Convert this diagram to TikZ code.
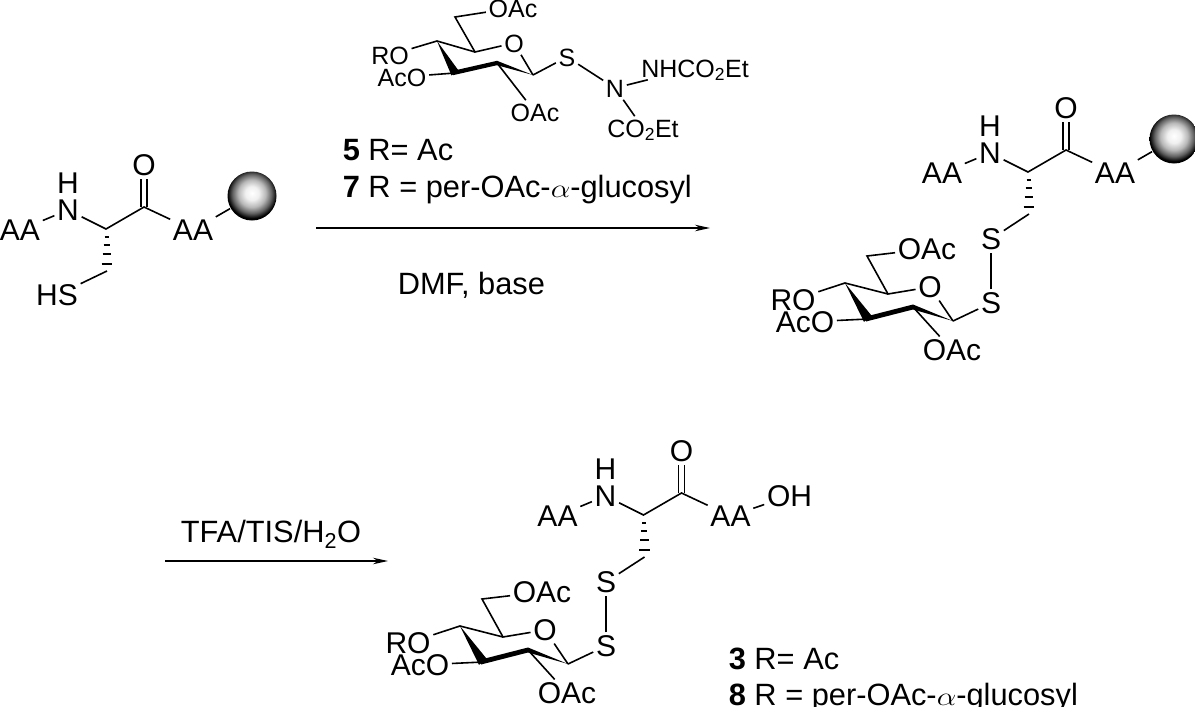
\documentclass[tikz,border=0pt]{standalone}
\usepackage{fontspec}
\setmainfont{Liberation Sans}
\usetikzlibrary{arrows.meta, positioning}
\pgfdeclareradialshading{beadshade}{\pgfpoint{0bp}{3bp}}{color(0bp)=(white); color(7bp)=(white!94!black); color(14bp)=(white!72!black); color(20bp)=(white!38!black); color(25bp)=(black); color(100bp)=(black)}
\newcommand\lpx{0}
\newcommand\lpy{0}
\newcommand\rpx{922}
\newcommand\rpy{-57}
\newcommand\bpx{537.5}
\newcommand\bpy{286}
\newcommand\rsx{0}
\newcommand\rsy{0}
\newcommand\bsx{-385}
\newcommand\bsy{343}
\newcommand\alphaglyph{\scalebox{1.25}[1.05]{$\alpha$}}

\begin{document}
\begin{tikzpicture}[x=1pt, y=-1pt, line width=1.6pt,
    atom/.style={inner sep=2pt, text height=21.5pt, text depth=0pt, font=\fontsize{30}{36}\selectfont},
    smallatom/.style={inner sep=2pt, text height=18pt, text depth=0pt, font=\fontsize{25}{30}\selectfont},
    lab/.style={inner sep=0pt, anchor=base west, font=\fontsize{30.8}{36}\selectfont},
    bead/.style={circle, inner sep=0pt, minimum size=49pt, shading=beadshade},
    rxn/.style={line width=1.2pt, -{Stealth[length=15pt, width=6.5pt]}}]

    \useasboundingbox (0, 0) rectangle (1195, 707);

    % Left peptide
    \node at (\lpx + 20, \lpy + 230) [atom] (aal1) {AA};
    \node at (\lpx + 68, \lpy + 210) [atom] (n1) {N};
    \node at (\lpx + 68, \lpy + 183) [atom] (h1) {H};
    \coordinate (ca1) at (\lpx + 106, \lpy + 229);
    \coordinate (co1) at (\lpx + 144, \lpy + 207);
    \node at (\lpx + 144, \lpy + 165) [atom] (o1) {O};
    \node at (\lpx + 193, \lpy + 230) [atom] (aar1) {AA};
    \node at (\lpx + 252, \lpy + 196) [bead] (bead1) {};
    \coordinate (cb1) at (\lpx + 107, \lpy + 271);
    \node at (\lpx + 57, \lpy + 295) [atom] (hs1) {HS};

    \draw (aal1) -- (n1);
    \draw (n1) -- (ca1) -- (co1) -- (aar1);
    \draw ([xshift=-3pt]co1) -- ([xshift=-3pt]o1.south);
    \draw ([xshift=3pt]co1) -- ([xshift=3pt]o1.south);
    \draw (aar1) -- (bead1);
    \draw (cb1) -- (hs1);
    \draw ([shift={(-1.5,8)}]ca1) -- ([shift={(2.5,8)}]ca1)
          ([shift={(-2.5,16)}]ca1) -- ([shift={(3.5,16)}]ca1)
          ([shift={(-3.5,25)}]ca1) -- ([shift={(5,25)}]ca1)
          ([shift={(-4.5,35)}]ca1) -- ([shift={(6,35)}]ca1);

    % Right peptide
    \node at (\rpx + 20, \rpy + 230) [atom] (aal2) {AA};
    \node at (\rpx + 68, \rpy + 210) [atom] (n2) {N};
    \node at (\rpx + 68, \rpy + 183) [atom] (h2) {H};
    \coordinate (ca2) at (\rpx + 106, \rpy + 229);
    \coordinate (co2) at (\rpx + 144, \rpy + 207);
    \node at (\rpx + 144, \rpy + 165) [atom] (o2) {O};
    \node at (\rpx + 193, \rpy + 230) [atom] (aar2) {AA};
    \node at (\rpx + 252, \rpy + 196) [bead] (bead2) {};
    \coordinate (cb2) at (\rpx + 107, \rpy + 271);

    \draw (aal2) -- (n2);
    \draw (n2) -- (ca2) -- (co2) -- (aar2);
    \draw ([xshift=-3pt]co2) -- ([xshift=-3pt]o2.south);
    \draw ([xshift=3pt]co2) -- ([xshift=3pt]o2.south);
    \draw (aar2) -- (bead2);
    \draw ([shift={(-1.5,8)}]ca2) -- ([shift={(2.5,8)}]ca2)
          ([shift={(-2.5,16)}]ca2) -- ([shift={(3.5,16)}]ca2)
          ([shift={(-3.5,25)}]ca2) -- ([shift={(5,25)}]ca2)
          ([shift={(-4.5,35)}]ca2) -- ([shift={(6,35)}]ca2);

    % Bottom peptide
    \node at (\bpx + 20, \bpy + 230) [atom] (aal3) {AA};
    \node at (\bpx + 68, \bpy + 210) [atom] (n3) {N};
    \node at (\bpx + 68, \bpy + 183) [atom] (h3) {H};
    \coordinate (ca3) at (\bpx + 106, \bpy + 229);
    \coordinate (co3) at (\bpx + 144, \bpy + 207);
    \node at (\bpx + 144, \bpy + 165) [atom] (o3) {O};
    \node at (\bpx + 193, \bpy + 230) [atom] (aar3) {AA};
    \node at (\bpx + 252, \bpy + 210) [atom] (oh3) {OH};
    \coordinate (cb3) at (\bpx + 107, \bpy + 271);

    \draw (aal3) -- (n3);
    \draw (n3) -- (ca3) -- (co3) -- (aar3);
    \draw ([xshift=-3pt]co3) -- ([xshift=-3pt]o3.south);
    \draw ([xshift=3pt]co3) -- ([xshift=3pt]o3.south);
    \draw (aar3) -- (oh3);
    \draw ([shift={(-1.5,8)}]ca3) -- ([shift={(2.5,8)}]ca3)
          ([shift={(-2.5,16)}]ca3) -- ([shift={(3.5,16)}]ca3)
          ([shift={(-3.5,25)}]ca3) -- ([shift={(5,25)}]ca3)
          ([shift={(-4.5,35)}]ca3) -- ([shift={(6,35)}]ca3);

    % Top sugar
    \coordinate (c61) at (455, 17);
    \coordinate (c51) at (475, 52);
    \coordinate (c41) at (437, 41);
    \coordinate (c31) at (455, 73);
    \coordinate (c21) at (497, 63);
    \coordinate (c11) at (533, 75);
    \node at (513, 8) [smallatom] (oac1) {OAc};
    \node at (514, 43) [smallatom] (ring1) {O};
    \node at (390, 55) [smallatom] (ro1) {RO};
    \node at (402, 77) [smallatom] (aco1) {AcO};
    \node at (535, 112) [smallatom] (oacb1) {OAc};
    \node at (567, 57) [smallatom] (s1) {S};
    \node at (615, 88) [smallatom] (nb1) {N};
    \node at (695, 68) [smallatom] (nh1) {NHCO\textsubscript{2}Et};
    \node at (643, 128) [smallatom] (co2et1) {CO\textsubscript{2}Et};

    \draw (oac1) -- (c61) -- (c51) -- (ring1) -- (c11);
    \draw (c41) -- (c51);
    \draw (ro1) -- (c41);
    \draw (aco1) -- (c31);
    \draw (c21) -- (oacb1);
    \draw (c11) -- (s1);
    \draw (s1) -- (nb1);
    \draw (nb1) -- (nh1);
    \draw (nb1) -- (co2et1);
    \fill (c41) -- ([shift={(-3.5,2.5)}]c31) -- ([shift={(3.5,-2.5)}]c31) -- cycle;
    \fill ([shift={(-2,2.2)}]c31) -- ([shift={(0,2.2)}]c21) -- ([shift={(0,-2.2)}]c21) -- ([shift={(-2,-2.2)}]c31) -- cycle;
    \fill ([shift={(0,-2.2)}]c21) -- ([shift={(0,2.2)}]c21) -- (c11) -- cycle;

    % Right sugar
    \coordinate (c62) at (\rsx + 867, \rsy + 256);
    \coordinate (c52) at (\rsx + 888, \rsy + 294);
    \coordinate (c42) at (\rsx + 845, \rsy + 283);
    \coordinate (c32) at (\rsx + 868, \rsy + 319);
    \coordinate (c22) at (\rsx + 913, \rsy + 307);
    \coordinate (c12) at (\rsx + 953, \rsy + 321);
    \node at (\rsx + 927, \rsy + 249) [atom] (oac2) {OAc};
    \node at (\rsx + 930, \rsy + 287) [atom] (ring2) {O};
    \node at (\rsx + 793, \rsy + 300) [atom] (ro2) {RO};
    \node at (\rsx + 805, \rsy + 322) [atom] (aco2) {AcO};
    \node at (\rsx + 952, \rsy + 350) [atom] (oacb2) {OAc};
    \node at (\rsx + 991, \rsy + 239) [atom] (su2) {S};
    \node at (\rsx + 991, \rsy + 303) [atom] (sd2) {S};

    \draw (oac2) -- (c62) -- (c52) -- (ring2) -- (c12);
    \draw (c42) -- (c52);
    \draw (ro2) -- (c42);
    \draw (aco2) -- (c32);
    \draw (c22) -- (oacb2);
    \draw (c12) -- (sd2);
    \draw (sd2) -- (su2);
    \draw (su2) -- (cb2);
    \fill (c42) -- ([shift={(-4,2.8)}]c32) -- ([shift={(4,-2.8)}]c32) -- cycle;
    \fill ([shift={(-2,2.5)}]c32) -- ([shift={(0,2.5)}]c22) -- ([shift={(0,-2.5)}]c22) -- ([shift={(-2,-2.5)}]c32) -- cycle;
    \fill ([shift={(0,-2.5)}]c22) -- ([shift={(0,2.5)}]c22) -- (c12) -- cycle;

    % Bottom sugar
    \coordinate (c63) at (\bsx + 867, \bsy + 256);
    \coordinate (c53) at (\bsx + 888, \bsy + 294);
    \coordinate (c43) at (\bsx + 845, \bsy + 283);
    \coordinate (c33) at (\bsx + 868, \bsy + 319);
    \coordinate (c23) at (\bsx + 913, \bsy + 307);
    \coordinate (c13) at (\bsx + 953, \bsy + 321);
    \node at (\bsx + 927, \bsy + 249) [atom] (oac3) {OAc};
    \node at (\bsx + 930, \bsy + 287) [atom] (ring3) {O};
    \node at (\bsx + 793, \bsy + 300) [atom] (ro3) {RO};
    \node at (\bsx + 805, \bsy + 322) [atom] (aco3) {AcO};
    \node at (\bsx + 952, \bsy + 350) [atom] (oacb3) {OAc};
    \node at (\bsx + 991, \bsy + 239) [atom] (su3) {S};
    \node at (\bsx + 991, \bsy + 303) [atom] (sd3) {S};

    \draw (oac3) -- (c63) -- (c53) -- (ring3) -- (c13);
    \draw (c43) -- (c53);
    \draw (ro3) -- (c43);
    \draw (aco3) -- (c33);
    \draw (c23) -- (oacb3);
    \draw (c13) -- (sd3);
    \draw (sd3) -- (su3);
    \draw (su3) -- (cb3);
    \fill (c43) -- ([shift={(-4,2.8)}]c33) -- ([shift={(4,-2.8)}]c33) -- cycle;
    \fill ([shift={(-2,2.5)}]c33) -- ([shift={(0,2.5)}]c23) -- ([shift={(0,-2.5)}]c23) -- ([shift={(-2,-2.5)}]c33) -- cycle;
    \fill ([shift={(0,-2.5)}]c23) -- ([shift={(0,2.5)}]c23) -- (c13) -- cycle;

    % Arrows and labels
    \coordinate (arr1s) at (316, 228);
    \coordinate (arr1e) at (710, 228);
    \coordinate (arr2s) at (165, 561);
    \coordinate (arr2e) at (388, 561);
    \draw [rxn] (arr1s) -- (arr1e);
    \draw [rxn] (arr2s) -- (arr2e);

    \node at (342, 160) [lab] (lab5) {\textbf{5} R= Ac};
    \node at (342, 197) [lab] (lab7) {\textbf{7} R = per-OAc-\alphaglyph-glucosyl};
    \node at (397, 294) [lab] (cond1) {DMF, base};
    \node at (180, 542) [lab] (cond2) {TFA/TIS/H\textsubscript{2}O};
    \node at (728, 669) [lab] (lab3) {\textbf{3} R= Ac};
    \node at (728, 705) [lab] (lab8) {\textbf{8} R = per-OAc-\alphaglyph-glucosyl};

\end{tikzpicture}
\end{document}
